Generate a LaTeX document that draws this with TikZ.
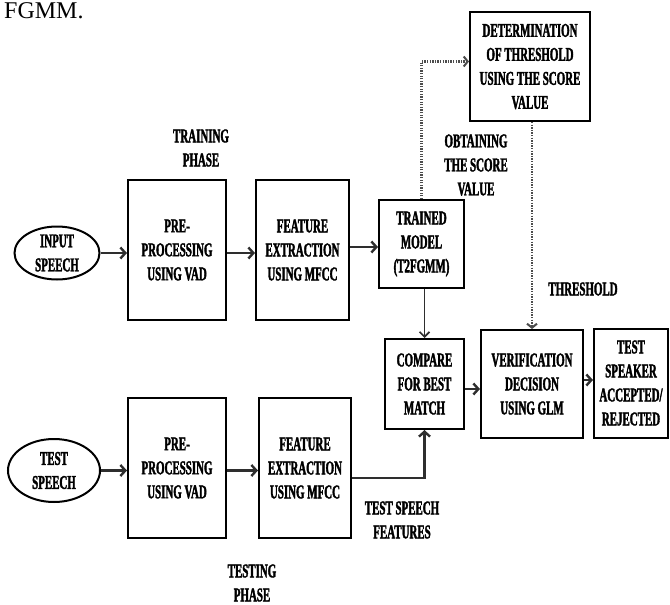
\documentclass[tikz,border=0pt]{standalone}
\usepackage{fontspec}
\setmainfont{Liberation Serif}[FakeStretch=0.56,BoldFont={Liberation Serif Bold},BoldFeatures={FakeBold=1.8}]
\newfontfamily\capfont{Liberation Serif}
\usetikzlibrary{arrows.meta,shapes.geometric}
\definecolor{ln}{HTML}{2E2E2E}
\tikzset{
  blk/.style={draw=black,line width=2pt,rectangle,align=center,inner sep=2pt,
    font=\fontsize{19.5}{24}\selectfont\bfseries},
  oval/.style={draw=black,line width=2pt,ellipse,align=center,inner sep=0pt,
    font=\fontsize{19.5}{24}\selectfont\bfseries},
  lbl/.style={align=center,inner sep=0pt,font=\fontsize{19.5}{24}\selectfont\bfseries},
  arr/.style={draw=ln,line width=2.8pt,-{Straight Barb[length=5pt,width=11pt,line width=2.4pt]}},
  thinarr/.style={draw=ln,line width=1.7pt,-{Straight Barb[length=5pt,width=10pt,line width=1.7pt]}},
  dotarr/.style={draw=ln!85,line width=2.2pt,dash pattern=on 1.3pt off 1.3pt,-{Straight Barb[length=4pt,width=10pt,line width=2pt,sep=0pt]}}
}
\begin{document}
\begin{tikzpicture}[x=1pt,y=-1pt]
\useasboundingbox (0,0) rectangle (670,605);
\node[anchor=base west,inner sep=0pt,font=\capfont\fontsize{24}{24}\selectfont] (cap) at (4,19) {FGMM.};
% training row
\node[oval,minimum width=85,minimum height=53] (in1) at (57,253) {INPUT\\SPEECH};
\node[blk,minimum width=98,minimum height=140] (pp1) at (177,250) {PRE-\\PROCESSING\\USING VAD};
\node[blk,minimum width=93,minimum height=140] (fe1) at (302.5,250) {FEATURE\\EXTRACTION\\USING MFCC};
\node[blk,minimum width=85,minimum height=88] (tm) at (421.5,244) {TRAINED\\MODEL\\(T2FGMM)};
\node[blk,minimum width=120,minimum height=109] (det) at (530,66.5) {DETERMINATION\\OF THRESHOLD\\USING THE SCORE\\VALUE};
% middle
\node[blk,minimum width=79,minimum height=90] (cmp) at (424.5,384) {COMPARE\\FOR BEST\\MATCH};
\node[blk,minimum width=102,minimum height=108] (ver) at (532,384) {VERIFICATION\\DECISION\\USING GLM};
\node[blk,minimum width=74,minimum height=109] (ts) at (631,383) {TEST\\SPEAKER\\ACCEPTED/\\REJECTED};
% testing row
\node[oval,minimum width=92,minimum height=63] (in2) at (54,470.5) {TEST\\SPEECH};
\node[blk,minimum width=98,minimum height=140] (pp2) at (177,468) {PRE-\\PROCESSING\\USING VAD};
\node[blk,minimum width=92,minimum height=140] (fe2) at (305,468) {FEATURE\\EXTRACTION\\USING MFCC};
% labels
\node[lbl] (trp) at (201,148) {TRAINING\\PHASE};
\node[lbl] (obt) at (476,165) {OBTAINING\\THE SCORE\\VALUE};
\node[lbl] (thr) at (583,289) {THRESHOLD};
\node[lbl] (tsf) at (402,520) {TEST SPEECH\\FEATURES};
\node[lbl] (tep) at (252,583) {TESTING\\PHASE};
% connectors
\draw[arr] (in1.east) -- (in1.east -| pp1.west);
\draw[arr] (pp1.east |- in1.east) -- (fe1.west |- in1.east);
\draw[arr] ([yshift=3pt]fe1.east) -- ([yshift=3pt]fe1.east -| tm.west);
\draw[thinarr] (tm.south -| cmp.north) -- (cmp.north);
\draw[arr] ([yshift=-5pt]cmp.east) -- ([yshift=-5pt]cmp.east -| ver.west);
\draw[arr] ([yshift=4pt]ver.east) -- ([yshift=4pt]ver.east -| ts.west);
\draw[arr] (in2.east) -- (in2.east -| pp2.west);
\draw[arr] (pp2.east |- in2.east) -- (fe2.west |- in2.east);
\draw[arr] ([yshift=-10pt]fe2.east) -| (cmp.south);
\draw[dotarr] (tm.north) |- ([yshift=5pt]det.west);
\draw[dotarr] (det.south -| ver.north) -- (ver.north);
\end{tikzpicture}
\end{document}
